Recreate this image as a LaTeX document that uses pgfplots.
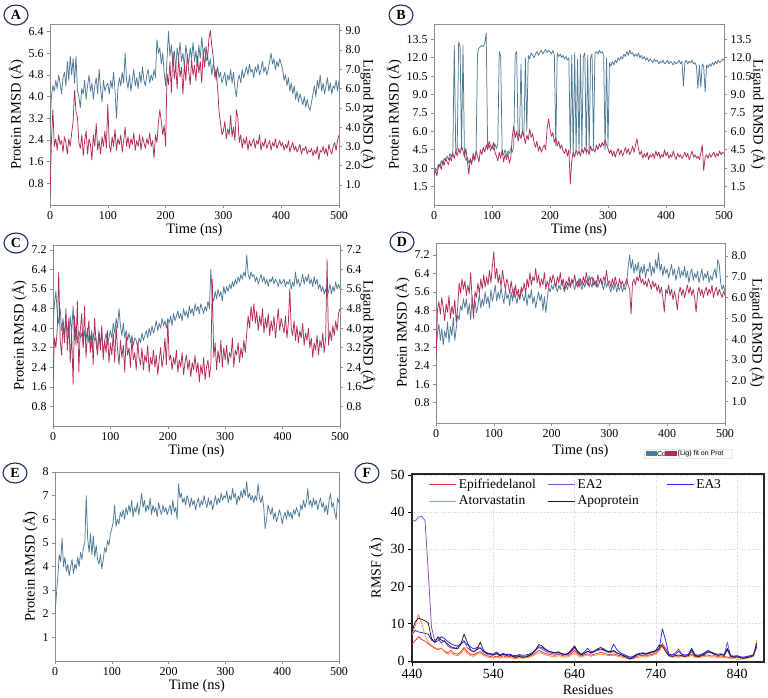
\documentclass[border=0pt]{standalone}
\usepackage{pgfplots}
\pgfplotsset{compat=1.18}
\usepackage{pgfplotstable}
\usepackage{fontspec}
\setmainfont{Liberation Serif}
\newfontfamily\legsans{Liberation Sans}

\definecolor{protblue}{RGB}{78,121,150}
\definecolor{ligred}{RGB}{176,44,88}
\definecolor{framegray}{RGB}{140,140,140}
\definecolor{navy}{RGB}{30,45,90}
\definecolor{epired}{RGB}{225,50,45}
\definecolor{eapurple}{RGB}{140,70,200}
\definecolor{eablue}{RGB}{30,30,255}
\definecolor{atorange}{RGB}{255,140,60}
\definecolor{apoblack}{RGB}{25,25,25}

% ---------- RMSD traces, one value every 2.5 ns (0 ... 500 ns) ----------
\pgfplotstableread[header=false,row sep=\\]{
3.0\\4.0\\4.4\\4.2\\4.6\\4.3\\4.8\\4.5\\4.1\\4.7\\4.9\\4.4\\5.3\\4.6\\5.5\\4.8\\5.4\\4.5\\5.5\\4.2\\
4.0\\3.6\\4.3\\4.1\\4.6\\3.9\\4.4\\4.8\\4.2\\4.5\\3.9\\4.4\\4.7\\4.1\\5.0\\4.3\\3.8\\4.6\\4.2\\4.4\\
4.5\\4.1\\4.6\\4.3\\4.9\\4.2\\3.2\\4.3\\4.7\\4.4\\4.9\\4.5\\5.6\\4.6\\4.3\\4.8\\4.2\\4.6\\5.0\\4.4\\
4.7\\4.3\\4.9\\4.5\\5.1\\4.6\\4.4\\4.8\\5.0\\4.5\\4.8\\4.6\\5.0\\4.7\\6.1\\5.6\\5.8\\5.2\\5.6\\4.9\\
4.4\\5.4\\6.4\\5.5\\5.9\\5.2\\5.7\\5.0\\5.8\\5.4\\6.0\\5.3\\5.6\\5.1\\5.9\\5.5\\5.2\\5.8\\5.4\\6.0\\
5.3\\5.7\\5.1\\5.9\\5.4\\6.2\\5.6\\5.8\\5.3\\5.5\\5.1\\5.4\\4.8\\5.2\\5.0\\4.6\\5.1\\4.7\\4.9\\4.5\\
4.7\\4.9\\4.4\\4.8\\4.6\\5.0\\4.5\\4.9\\4.3\\4.0\\4.6\\4.8\\4.5\\5.0\\4.7\\4.9\\5.1\\4.8\\5.2\\4.9\\
5.0\\4.7\\5.1\\4.9\\5.2\\4.8\\5.0\\5.3\\4.9\\5.1\\4.8\\5.0\\5.3\\5.6\\5.2\\5.4\\5.0\\5.3\\5.1\\5.4\\
5.2\\5.0\\4.6\\4.8\\4.4\\4.7\\4.2\\4.5\\4.1\\4.4\\3.9\\4.2\\3.8\\4.1\\3.9\\3.7\\4.0\\3.6\\3.9\\3.6\\
3.5\\3.8\\4.1\\4.4\\4.0\\4.6\\4.3\\4.8\\4.2\\4.5\\4.1\\4.4\\4.7\\4.2\\4.5\\4.1\\4.4\\4.3\\4.6\\4.2\\
4.6\\
}\Aprot
\pgfplotstableread[header=false,row sep=\\]{
0.3\\3.3\\4.9\\3.0\\3.4\\2.8\\3.6\\3.1\\3.3\\2.7\\3.5\\3.2\\2.6\\3.4\\3.0\\3.7\\4.3\\5.9\\4.8\\4.5\\
3.2\\2.9\\3.6\\2.5\\3.3\\3.8\\2.6\\3.4\\3.1\\2.3\\3.6\\3.0\\4.2\\2.8\\3.3\\2.6\\3.5\\3.0\\3.8\\2.9\\
5.2\\3.1\\2.7\\3.5\\3.0\\3.9\\2.8\\3.4\\3.1\\3.6\\2.7\\3.3\\4.0\\3.0\\3.5\\2.9\\3.4\\3.1\\3.7\\2.8\\
3.3\\3.0\\3.6\\2.8\\3.5\\3.2\\2.9\\3.4\\3.1\\3.7\\3.0\\3.3\\2.4\\3.6\\3.2\\4.2\\4.9\\4.3\\3.6\\4.1\\
3.0\\6.8\\6.2\\7.4\\5.8\\7.9\\6.5\\7.2\\6.0\\7.6\\6.6\\7.1\\5.7\\7.3\\6.4\\7.8\\6.9\\6.2\\7.5\\6.7\\
7.2\\6.4\\7.7\\6.8\\7.4\\6.3\\7.9\\7.1\\8.2\\7.5\\8.6\\9.0\\8.2\\7.6\\6.6\\7.0\\6.0\\4.8\\4.2\\3.6\\
3.8\\4.3\\3.4\\3.9\\3.6\\4.6\\3.5\\4.0\\3.3\\4.9\\4.5\\3.2\\3.6\\2.9\\3.4\\3.1\\3.5\\2.8\\3.3\\3.0\\
3.2\\3.4\\2.9\\3.3\\3.1\\3.6\\2.8\\3.2\\3.0\\3.4\\2.9\\3.1\\3.3\\2.8\\3.2\\3.0\\3.4\\2.9\\3.1\\3.3\\
3.0\\3.2\\2.8\\3.1\\2.9\\3.3\\2.7\\3.0\\3.2\\2.8\\3.0\\2.7\\2.9\\3.1\\2.6\\2.9\\2.8\\3.0\\2.6\\2.8\\
2.7\\2.9\\2.5\\2.8\\2.6\\3.0\\2.3\\2.8\\2.7\\3.0\\2.6\\2.9\\2.5\\3.1\\2.8\\2.6\\3.0\\3.2\\2.8\\3.3\\
3.6\\
}\Alig
\pgfplotstableread[header=false,row sep=\\]{
2.6\\3.0\\2.8\\3.3\\3.1\\3.6\\3.3\\3.8\\3.6\\4.0\\3.7\\4.2\\3.9\\4.4\\13.0\\4.3\\4.6\\13.3\\12.9\\4.5\\
13.0\\4.1\\3.6\\3.9\\3.4\\3.7\\3.5\\3.9\\3.6\\4.0\\12.3\\12.8\\12.9\\13.0\\12.9\\13.2\\14.0\\4.6\\4.9\\4.4\\
4.8\\4.5\\5.0\\4.6\\4.9\\12.5\\12.1\\4.3\\4.1\\4.5\\4.0\\4.4\\4.2\\4.6\\4.3\\4.8\\12.3\\12.5\\5.6\\5.9\\
11.5\\5.8\\5.6\\12.0\\6.0\\12.2\\11.9\\12.4\\12.2\\12.0\\12.3\\12.5\\12.2\\12.4\\12.6\\12.3\\12.5\\12.7\\12.4\\12.6\\
12.5\\12.3\\12.6\\12.2\\4.8\\12.4\\12.1\\12.3\\12.0\\12.2\\11.9\\12.1\\11.8\\12.0\\4.2\\12.2\\4.0\\12.4\\4.5\\11.9\\
4.3\\12.3\\4.6\\12.1\\12.4\\4.1\\12.2\\4.4\\12.0\\12.3\\4.7\\12.4\\12.5\\12.3\\12.6\\12.4\\12.5\\12.2\\4.5\\12.0\\
4.8\\11.6\\11.3\\11.7\\11.4\\11.8\\11.6\\12.0\\11.8\\12.1\\11.9\\12.3\\12.1\\12.5\\12.2\\12.6\\12.3\\12.4\\12.1\\12.3\\
12.1\\12.4\\12.0\\12.2\\11.9\\12.1\\11.8\\12.0\\11.7\\11.9\\11.8\\11.6\\11.9\\11.7\\11.8\\11.5\\11.7\\11.6\\11.8\\11.5\\
11.6\\11.8\\11.5\\11.7\\11.6\\11.4\\11.7\\11.5\\11.6\\11.8\\11.5\\11.7\\9.7\\11.6\\11.8\\11.5\\11.7\\11.6\\11.8\\11.5\\
11.6\\11.3\\9.5\\11.4\\9.6\\11.5\\11.3\\9.2\\11.4\\11.2\\11.5\\11.3\\11.6\\11.4\\11.7\\11.5\\11.8\\11.6\\11.7\\11.9\\
11.8\\
}\Bprot
\pgfplotstableread[header=false,row sep=\\]{
2.5\\2.8\\2.4\\3.1\\3.3\\2.9\\3.6\\3.2\\3.8\\3.5\\3.3\\3.9\\3.6\\4.2\\3.8\\4.4\\4.0\\4.6\\4.2\\4.8\\
4.4\\3.9\\4.6\\3.6\\2.5\\3.8\\3.3\\4.2\\3.7\\4.4\\4.0\\3.5\\4.5\\4.1\\4.7\\4.3\\4.9\\4.5\\5.2\\4.8\\
4.6\\5.1\\4.3\\4.0\\3.6\\4.3\\3.8\\4.5\\3.5\\4.1\\3.7\\4.2\\3.4\\3.9\\5.6\\6.4\\5.5\\6.0\\5.2\\5.8\\
5.4\\6.1\\5.6\\5.0\\5.7\\5.3\\6.2\\5.5\\5.8\\5.1\\4.7\\5.2\\4.4\\4.8\\4.3\\4.6\\4.9\\4.5\\6.2\\7.0\\
6.2\\5.6\\5.9\\5.1\\5.5\\4.8\\5.2\\4.6\\4.9\\4.4\\4.2\\4.6\\4.0\\4.5\\1.7\\3.6\\4.3\\3.9\\4.5\\4.1\\
4.4\\4.0\\4.6\\4.2\\4.7\\4.3\\4.5\\4.1\\4.8\\4.4\\4.6\\4.3\\4.9\\4.5\\5.0\\4.7\\5.1\\4.8\\5.3\\4.9\\
4.6\\4.2\\4.5\\4.0\\4.4\\3.9\\4.3\\4.6\\4.1\\4.5\\4.0\\4.3\\4.7\\4.2\\4.6\\4.1\\4.4\\4.8\\4.3\\4.9\\
5.4\\4.6\\4.1\\4.4\\3.8\\4.2\\3.9\\4.3\\3.7\\4.1\\3.9\\4.2\\3.8\\4.4\\4.0\\4.3\\3.8\\4.1\\3.9\\4.5\\
4.0\\4.3\\3.8\\4.1\\3.9\\4.4\\4.0\\3.7\\4.2\\3.9\\4.1\\3.8\\4.0\\4.3\\3.9\\4.2\\3.7\\4.0\\4.4\\3.9\\
4.1\\3.8\\4.0\\3.7\\4.2\\4.9\\2.8\\3.9\\4.1\\3.8\\4.2\\3.9\\4.1\\4.3\\3.9\\4.2\\4.0\\4.4\\4.1\\4.3\\
4.2\\
}\Blig
\pgfplotstableread[header=false,row sep=\\]{
4.0\\5.0\\5.5\\4.6\\4.2\\4.8\\3.9\\4.4\\3.7\\4.3\\4.0\\3.6\\4.5\\3.8\\4.9\\3.5\\4.1\\3.4\\3.9\\3.6\\
3.8\\3.3\\3.9\\3.5\\4.0\\3.4\\3.7\\3.2\\3.8\\3.5\\3.6\\3.1\\3.9\\3.4\\3.7\\3.0\\3.5\\3.8\\3.3\\3.6\\
3.9\\3.6\\4.2\\3.8\\4.4\\4.0\\4.8\\4.1\\3.7\\4.2\\3.6\\3.9\\3.5\\3.8\\3.4\\3.7\\3.3\\3.6\\3.5\\3.2\\
3.6\\3.4\\3.8\\3.5\\3.7\\3.9\\3.6\\4.0\\3.7\\4.1\\3.8\\4.0\\4.3\\3.9\\4.2\\4.0\\4.4\\4.1\\4.3\\4.0\\
4.4\\4.2\\4.5\\4.1\\4.6\\4.3\\4.5\\4.7\\4.4\\4.6\\4.3\\4.8\\4.5\\4.7\\4.4\\4.9\\4.6\\4.8\\4.5\\5.0\\
4.7\\4.9\\4.6\\5.0\\4.8\\4.6\\4.9\\4.7\\5.1\\4.8\\6.4\\5.3\\5.1\\5.5\\5.2\\5.6\\5.3\\5.5\\5.1\\5.7\\
5.4\\5.7\\5.5\\5.8\\5.6\\5.9\\5.7\\6.0\\5.8\\6.1\\5.9\\6.2\\6.0\\6.3\\6.1\\7.0\\6.2\\6.0\\6.3\\6.1\\
6.2\\5.9\\6.1\\5.8\\6.0\\6.2\\5.9\\6.1\\5.8\\6.0\\5.7\\6.0\\5.9\\6.1\\5.8\\6.0\\5.9\\5.7\\6.0\\5.8\\
5.9\\6.0\\5.7\\5.9\\5.8\\6.0\\5.6\\5.9\\5.7\\6.3\\5.8\\6.0\\5.7\\5.9\\6.2\\5.8\\6.1\\5.9\\6.2\\5.8\\
6.0\\5.7\\6.1\\5.8\\6.0\\5.6\\5.8\\5.5\\5.7\\5.4\\5.6\\5.3\\5.5\\5.8\\5.4\\5.7\\5.5\\5.9\\5.6\\5.8\\
5.6\\
}\Cprot
\pgfplotstableread[header=false,row sep=\\]{
1.8\\3.6\\3.2\\4.0\\6.3\\3.5\\2.9\\4.2\\3.4\\4.8\\3.1\\4.4\\2.6\\3.8\\1.7\\4.5\\3.3\\5.1\\2.2\\3.9\\
4.6\\3.2\\4.9\\2.8\\3.7\\4.3\\3.0\\3.9\\2.5\\4.4\\3.4\\2.9\\3.8\\3.1\\4.1\\2.7\\3.5\\3.0\\3.9\\2.6\\
3.4\\2.9\\3.8\\2.6\\4.1\\3.1\\2.5\\3.5\\2.8\\3.3\\2.2\\3.7\\2.9\\3.2\\2.4\\3.6\\2.7\\3.0\\2.3\\3.4\\
2.8\\2.5\\3.2\\2.3\\2.9\\2.6\\3.3\\2.2\\2.8\\2.5\\3.1\\2.4\\2.9\\2.1\\2.7\\3.2\\2.4\\2.8\\3.6\\2.5\\
4.3\\2.7\\2.9\\2.3\\2.8\\2.5\\3.1\\2.2\\2.7\\2.4\\3.0\\2.1\\2.6\\2.9\\2.3\\2.7\\2.0\\2.6\\2.3\\2.9\\
2.2\\2.6\\1.8\\2.5\\2.1\\2.8\\1.9\\2.4\\2.7\\2.0\\2.5\\6.0\\2.8\\3.4\\2.3\\3.1\\2.6\\3.5\\2.4\\3.2\\
2.7\\3.3\\2.5\\3.0\\2.8\\3.6\\2.4\\3.1\\2.9\\3.4\\2.6\\3.2\\2.8\\3.5\\3.0\\3.8\\4.5\\4.0\\4.9\\4.3\\
5.0\\4.2\\4.7\\3.9\\4.5\\4.1\\4.8\\3.8\\4.4\\4.0\\4.6\\3.7\\4.3\\3.9\\4.5\\3.6\\4.2\\4.8\\3.9\\4.4\\
4.1\\3.8\\4.5\\3.6\\4.2\\5.6\\4.0\\3.7\\4.3\\3.5\\4.1\\3.4\\3.9\\3.6\\4.2\\3.3\\3.8\\3.5\\4.0\\3.2\\
3.6\\2.8\\3.4\\3.1\\3.7\\2.9\\3.5\\3.2\\3.8\\3.0\\3.6\\6.8\\3.3\\3.9\\3.5\\4.1\\3.7\\4.3\\3.9\\4.6\\
4.8\\
}\Clig
\pgfplotstableread[header=false,row sep=\\]{
3.0\\3.8\\4.2\\3.5\\4.0\\3.3\\3.9\\3.6\\4.3\\3.4\\4.1\\3.7\\4.5\\3.5\\4.0\\4.6\\4.4\\5.0\\4.8\\5.3\\
4.9\\5.3\\4.6\\5.1\\4.4\\5.4\\4.8\\5.2\\4.7\\5.0\\5.5\\4.9\\5.3\\5.0\\5.6\\5.1\\5.4\\4.9\\5.7\\5.2\\
5.5\\5.9\\5.2\\5.6\\5.3\\5.8\\5.4\\5.1\\5.7\\5.3\\5.5\\5.0\\5.6\\5.2\\5.8\\5.4\\5.1\\5.5\\5.3\\5.7\\
5.4\\5.2\\5.6\\5.0\\5.5\\5.3\\5.7\\5.1\\5.4\\4.9\\5.3\\5.6\\5.2\\5.5\\4.8\\5.4\\4.7\\5.3\\5.8\\5.6\\
5.9\\5.7\\6.0\\5.8\\5.6\\5.9\\5.7\\6.1\\5.8\\5.6\\5.9\\5.7\\6.0\\5.8\\6.1\\5.9\\5.7\\6.0\\5.8\\6.2\\
5.9\\5.7\\6.0\\5.8\\6.1\\5.9\\6.3\\6.0\\5.8\\6.2\\5.9\\6.1\\5.8\\6.0\\6.2\\5.9\\5.7\\6.1\\5.8\\6.0\\
5.8\\5.6\\5.9\\5.7\\6.0\\5.6\\5.8\\5.7\\5.9\\5.6\\5.8\\5.7\\6.0\\6.7\\7.2\\6.6\\7.0\\6.4\\6.8\\6.5\\
6.9\\6.3\\6.7\\6.4\\6.8\\6.2\\6.6\\6.5\\6.9\\6.3\\6.7\\6.4\\7.0\\6.6\\7.3\\6.5\\6.8\\6.3\\6.7\\6.4\\
6.6\\6.2\\6.5\\6.8\\6.3\\6.6\\6.1\\6.4\\6.7\\6.2\\6.5\\6.3\\6.7\\6.2\\6.5\\6.0\\6.4\\6.6\\6.1\\6.4\\
6.2\\6.5\\6.0\\6.3\\6.6\\6.1\\6.4\\6.2\\6.5\\6.0\\6.3\\6.1\\6.4\\6.6\\6.2\\7.0\\6.8\\6.0\\5.7\\5.9\\
5.6\\
}\Dprot
\pgfplotstableread[header=false,row sep=\\]{
3.0\\5.4\\5.8\\5.2\\6.0\\5.5\\4.9\\5.7\\5.3\\6.1\\5.0\\5.6\\5.2\\5.9\\4.8\\5.5\\6.7\\6.2\\6.9\\6.4\\
6.8\\6.1\\6.6\\6.2\\7.2\\5.9\\5.0\\6.3\\6.0\\6.7\\6.2\\6.9\\6.4\\7.1\\6.5\\7.0\\6.6\\7.3\\6.7\\7.5\\
8.2\\6.9\\7.4\\6.7\\7.1\\6.5\\7.3\\6.8\\6.4\\6.9\\6.6\\6.2\\6.8\\6.3\\6.0\\6.6\\6.1\\6.4\\5.9\\6.5\\
6.3\\6.7\\6.2\\6.9\\6.5\\7.2\\6.6\\7.0\\6.8\\7.4\\6.7\\7.1\\6.5\\6.9\\6.6\\7.2\\6.4\\6.8\\6.5\\7.0\\
6.7\\7.1\\6.8\\6.5\\7.0\\6.7\\7.2\\6.6\\6.9\\6.4\\6.8\\6.6\\7.0\\6.5\\6.9\\6.7\\7.1\\6.6\\6.8\\6.5\\
6.9\\6.6\\7.0\\6.7\\7.2\\6.8\\6.5\\6.9\\7.0\\6.6\\6.8\\6.5\\7.1\\6.7\\6.9\\6.6\\7.0\\6.8\\7.3\\6.7\\
6.8\\6.5\\6.9\\6.6\\7.0\\6.7\\6.5\\6.9\\6.6\\6.8\\6.5\\6.7\\6.9\\6.6\\6.4\\5.2\\6.7\\6.9\\6.6\\7.0\\
6.8\\7.1\\6.7\\6.9\\6.6\\6.8\\6.5\\6.9\\6.7\\6.4\\6.8\\6.5\\6.7\\6.3\\6.6\\6.2\\6.5\\6.0\\5.3\\6.4\\
6.2\\6.6\\6.1\\6.4\\5.9\\6.3\\6.0\\5.4\\6.2\\6.5\\6.1\\6.4\\6.0\\6.3\\6.6\\6.2\\6.5\\6.1\\6.4\\6.0\\
5.3\\6.2\\6.5\\6.1\\6.4\\6.0\\6.3\\6.5\\6.1\\6.4\\6.2\\6.6\\6.0\\6.3\\6.5\\6.1\\6.4\\6.2\\6.0\\6.3\\
6.1\\
}\Dlig
\pgfplotstableread[header=false,row sep=\\]{
2.0\\2.8\\3.6\\4.5\\4.2\\5.2\\4.0\\4.4\\3.8\\4.1\\3.6\\4.0\\4.3\\3.7\\4.1\\3.9\\4.4\\4.0\\4.6\\4.3\\
4.8\\5.0\\7.0\\5.2\\4.6\\5.4\\4.5\\5.3\\4.4\\4.9\\4.3\\4.1\\4.5\\3.9\\4.3\\4.8\\4.6\\5.1\\4.9\\5.4\\
5.6\\5.9\\6.6\\5.7\\6.0\\5.8\\6.3\\6.1\\6.4\\6.0\\6.5\\6.2\\6.6\\6.3\\6.8\\6.1\\6.5\\6.3\\6.7\\6.2\\
6.6\\7.1\\6.5\\6.8\\6.3\\6.6\\6.4\\6.9\\6.2\\6.6\\6.3\\6.5\\6.1\\6.7\\6.4\\6.2\\6.6\\6.3\\6.5\\6.2\\
6.4\\6.6\\6.2\\6.8\\6.3\\6.5\\6.0\\7.5\\6.9\\7.1\\6.7\\6.9\\6.6\\7.0\\6.8\\6.5\\6.9\\6.6\\6.8\\6.4\\
6.7\\6.9\\6.5\\6.8\\6.6\\7.0\\6.7\\6.5\\6.9\\6.6\\6.8\\6.4\\6.7\\7.0\\6.6\\6.9\\6.7\\7.1\\6.8\\7.0\\
6.9\\7.2\\6.7\\7.0\\6.8\\7.3\\6.9\\7.1\\6.6\\7.0\\6.8\\7.2\\6.9\\7.3\\7.0\\7.6\\6.9\\7.1\\6.8\\7.0\\
6.7\\7.0\\6.8\\7.5\\6.9\\6.7\\7.0\\6.5\\5.6\\6.0\\6.6\\6.4\\6.2\\6.5\\6.0\\6.3\\5.9\\6.1\\6.4\\6.2\\
5.8\\6.1\\6.3\\6.0\\6.4\\6.1\\6.3\\6.0\\6.4\\6.2\\6.5\\6.3\\6.1\\6.6\\6.4\\6.8\\6.5\\6.7\\7.3\\6.6\\
6.8\\6.5\\6.9\\6.6\\6.8\\6.4\\6.7\\6.9\\6.5\\6.7\\6.3\\6.6\\6.2\\6.8\\7.1\\6.5\\6.7\\6.3\\6.0\\6.9\\
6.7\\
}\Eprot

% ---------- RMSF per residue, every 4th residue from 440 ----------
\pgfplotstableread[header=false,row sep=\\]{
4.5\\5.5\\6.5\\5.8\\5.3\\4.6\\4.0\\3.4\\3.0\\3.4\\
2.6\\2.2\\2.8\\2.0\\1.8\\2.4\\3.6\\2.5\\1.8\\1.6\\
2.2\\2.5\\1.8\\1.4\\1.2\\1.0\\1.3\\1.0\\1.4\\1.1\\
1.2\\1.0\\0.9\\1.1\\0.9\\1.0\\1.2\\1.6\\2.2\\2.8\\
2.4\\2.0\\1.8\\1.6\\1.5\\1.8\\1.5\\1.3\\1.4\\2.0\\
2.8\\1.8\\1.3\\1.6\\1.9\\1.5\\1.8\\2.0\\2.3\\2.1\\
1.8\\1.7\\1.9\\1.6\\1.4\\1.2\\0.9\\0.6\\0.8\\1.2\\
1.4\\1.5\\1.3\\1.6\\1.8\\2.2\\3.0\\4.6\\3.4\\1.6\\
1.3\\1.4\\1.2\\1.5\\1.3\\1.4\\1.8\\1.2\\1.1\\1.3\\
1.5\\1.6\\1.3\\1.4\\1.2\\1.3\\1.2\\1.0\\0.8\\0.9\\
1.0\\0.8\\0.7\\0.9\\1.0\\1.3\\3.8\\
}\Fepi
\pgfplotstableread[header=false,row sep=\\]{
38.0\\37.6\\38.7\\38.9\\37.8\\24.0\\9.0\\5.5\\6.0\\4.8\\
5.5\\4.0\\3.5\\3.2\\3.8\\4.5\\5.5\\3.5\\2.8\\2.5\\
3.0\\3.6\\2.4\\1.8\\1.6\\1.5\\2.0\\1.4\\1.8\\1.5\\
1.6\\1.3\\1.2\\1.5\\1.2\\1.3\\1.5\\2.0\\2.8\\3.6\\
3.2\\2.6\\2.2\\2.0\\1.8\\2.2\\1.8\\1.6\\1.8\\2.4\\
3.4\\2.2\\1.6\\2.0\\2.6\\2.0\\2.4\\2.8\\3.0\\2.8\\
2.4\\2.2\\2.6\\2.0\\1.8\\1.5\\1.2\\0.8\\1.0\\1.5\\
1.8\\1.9\\1.7\\2.0\\2.2\\2.6\\3.5\\4.0\\3.2\\1.8\\
1.6\\2.2\\3.2\\1.8\\1.6\\1.7\\2.4\\1.5\\1.4\\1.6\\
2.0\\2.6\\2.2\\1.8\\1.5\\1.6\\1.5\\5.0\\1.2\\1.2\\
1.3\\1.0\\0.9\\1.1\\1.3\\1.6\\4.2\\
}\Featwo
\pgfplotstableread[header=false,row sep=\\]{
7.0\\8.2\\7.8\\7.6\\7.4\\7.2\\5.6\\5.0\\5.4\\6.5\\
6.0\\5.2\\4.6\\4.2\\4.0\\4.6\\5.2\\4.4\\3.8\\3.2\\
3.6\\3.4\\2.5\\2.2\\2.0\\1.8\\2.4\\1.6\\2.0\\1.7\\
1.8\\1.5\\1.4\\1.7\\1.5\\1.6\\1.8\\2.2\\3.0\\3.8\\
3.6\\3.0\\2.6\\2.3\\2.1\\2.4\\2.0\\1.8\\2.0\\2.8\\
3.8\\2.6\\1.8\\2.4\\3.4\\2.4\\2.6\\3.0\\3.2\\3.0\\
2.6\\2.5\\4.5\\3.0\\2.2\\1.8\\1.4\\1.0\\1.2\\1.8\\
2.0\\2.2\\2.0\\2.3\\2.5\\2.8\\3.2\\8.6\\5.5\\1.8\\
1.6\\1.8\\2.6\\1.7\\1.5\\1.8\\3.4\\1.7\\1.5\\1.8\\
2.2\\2.8\\2.4\\2.0\\1.8\\1.9\\1.7\\3.4\\1.4\\1.3\\
1.4\\1.1\\1.0\\1.2\\1.4\\1.7\\3.9\\
}\Feathree
\pgfplotstableread[header=false,row sep=\\]{
7.0\\9.5\\12.5\\10.0\\7.0\\5.0\\4.2\\3.6\\3.2\\3.5\\
2.4\\1.8\\2.2\\1.6\\1.4\\2.0\\3.2\\2.0\\1.4\\1.2\\
1.8\\2.2\\1.5\\1.0\\0.9\\0.8\\1.0\\0.7\\1.0\\0.8\\
0.9\\0.7\\0.6\\0.8\\0.7\\0.8\\1.0\\1.3\\1.8\\2.2\\
2.0\\1.6\\1.4\\1.2\\1.1\\1.4\\1.2\\1.0\\1.1\\1.6\\
2.2\\1.4\\1.0\\1.3\\1.6\\1.2\\1.5\\1.6\\1.8\\1.7\\
1.5\\1.4\\1.5\\1.3\\1.1\\0.9\\0.7\\0.5\\0.6\\0.9\\
1.0\\1.2\\1.0\\1.3\\1.5\\1.9\\2.6\\4.0\\2.8\\1.2\\
1.0\\1.1\\1.0\\1.2\\1.0\\1.1\\1.5\\1.0\\0.9\\1.0\\
1.2\\1.3\\1.0\\1.1\\0.9\\1.0\\0.9\\0.8\\0.6\\0.6\\
0.5\\0.4\\0.5\\0.7\\0.9\\1.4\\5.5\\
}\Fator
\pgfplotstableread[header=false,row sep=\\]{
8.0\\10.5\\11.5\\11.2\\10.8\\10.2\\6.0\\5.0\\6.5\\5.6\\
5.2\\4.5\\3.8\\3.5\\3.2\\4.4\\7.2\\5.0\\3.0\\2.4\\
3.2\\5.0\\2.8\\2.0\\1.8\\1.6\\2.0\\1.4\\1.8\\1.5\\
1.6\\1.2\\1.0\\1.2\\1.0\\1.1\\1.4\\2.0\\3.0\\4.4\\
4.0\\3.2\\2.6\\2.4\\2.2\\2.4\\1.9\\1.7\\2.0\\3.0\\
4.0\\2.4\\1.6\\2.0\\2.6\\2.2\\2.6\\3.2\\3.6\\3.2\\
2.6\\2.4\\2.8\\2.2\\1.8\\1.4\\0.9\\0.5\\0.8\\1.6\\
1.8\\2.0\\1.8\\2.2\\2.4\\2.8\\4.2\\4.0\\2.5\\1.4\\
1.2\\1.4\\1.6\\1.3\\1.2\\1.4\\3.0\\1.4\\1.2\\1.4\\
1.8\\2.4\\2.2\\1.8\\1.5\\1.7\\1.5\\3.0\\1.2\\1.0\\
1.1\\0.8\\0.7\\0.9\\1.1\\1.4\\4.8\\
}\Fapo

\pgfplotsset{
  every axis/.append style={
    scale only axis,
    /pgf/number format/assume math mode=true,
    tick align=outside,
    major tick length=3bp,
    ticklabel style={font=\fontsize{12}{12}\selectfont},
    label style={font=\fontsize{14.5}{16}\selectfont},
  },
  rmsdL/.style={
    xmin=0, xmax=500, xtick={0,100,200,300,400,500},
    axis line style={framegray, line width=0.9pt},
    every tick/.style={framegray, line width=0.6pt},
    xtick pos=bottom, ytick pos=left,
    xlabel={Time (ns)}, ylabel={Protein RMSD (Å)},
    xlabel style={yshift=3bp},
    ylabel style={yshift=-2bp},
  },
  rmsdR/.style={
    xmin=0, xmax=500,
    axis x line=none, axis y line*=right,
    axis line style={framegray, line width=0.9pt},
    every tick/.style={framegray, line width=0.6pt},
    ylabel={Ligand RMSD (Å)},
    ylabel style={at={([xshift=#1]axis description cs:1,0.5)}, anchor=center, rotate=180},
  },
  onedec/.style={yticklabel style={/pgf/number format/.cd, fixed, fixed zerofill, precision=1}},
  protline/.style={protblue, line width=0.75pt, line join=round, no markers},
  ligline/.style={ligred, line width=0.75pt, line join=round, no markers},
  rmsfline/.style={line width=0.75pt, line join=round, no markers},
}

\begin{document}
\begin{tikzpicture}
\path[use as bounding box, fill=white] (0,0) rectangle (768bp,698bp);

% ---------------- A ----------------
\begin{axis}[rmsdL, onedec, at={(50bp,493bp)}, anchor=south west, width=289bp, height=181bp,
  ymin=0, ymax=6.68, ytick={0.8,1.6,2.4,3.2,4.0,4.8,5.6,6.4}]
  \addplot[protline] table[x expr=\coordindex*2.5, y index=0] {\Aprot};
\end{axis}
\begin{axis}[rmsdR=29bp, onedec, at={(50bp,493bp)}, anchor=south west, width=289bp, height=181bp,
  ymin=-0.04, ymax=9.35, ytick={1,2,...,9}]
  \addplot[ligline] table[x expr=\coordindex*2.5, y index=0] {\Alig};
\end{axis}

% ---------------- B ----------------
\begin{axis}[rmsdL, onedec, at={(434bp,493bp)}, anchor=south west, width=290bp, height=181bp,
  ymin=0, ymax=14.75, ytick={1.5,3,4.5,6,7.5,9,10.5,12,13.5}]
  \addplot[protline] table[x expr=\coordindex*2.5, y index=0] {\Bprot};
\end{axis}
\begin{axis}[rmsdR=34bp, onedec, at={(434bp,493bp)}, anchor=south west, width=290bp, height=181bp,
  ymin=0, ymax=14.75, ytick={1.5,3,4.5,6,7.5,9,10.5,12,13.5}]
  \addplot[ligline] table[x expr=\coordindex*2.5, y index=0] {\Blig};
\end{axis}

% ---------------- C ----------------
\begin{axis}[rmsdL, onedec, at={(53bp,272bp)}, anchor=south west, width=287bp, height=181bp,
  ymin=0, ymax=7.4, ytick={0.8,1.6,2.4,3.2,4.0,4.8,5.6,6.4,7.2}]
  \addplot[protline] table[x expr=\coordindex*2.5, y index=0] {\Cprot};
\end{axis}
\begin{axis}[rmsdR=28bp, onedec, at={(53bp,272bp)}, anchor=south west, width=287bp, height=181bp,
  ymin=0, ymax=7.4, ytick={0.8,1.6,2.4,3.2,4.0,4.8,5.6,6.4,7.2}]
  \addplot[ligline] table[x expr=\coordindex*2.5, y index=0] {\Clig};
\end{axis}

% ---------------- D ----------------
\begin{axis}[rmsdL, onedec, at={(436bp,275bp)}, anchor=south west, width=289bp, height=180bp,
  ymin=-0.08, ymax=7.72, ytick={0.8,1.6,2.4,3.2,4.0,4.8,5.6,6.4,7.2},
  xlabel style={yshift=-3bp}]
  \addplot[protline] table[x expr=\coordindex*2.5, y index=0] {\Dprot};
\end{axis}
\begin{axis}[rmsdR=32bp, onedec, at={(436bp,275bp)}, anchor=south west, width=289bp, height=180bp,
  ymin=-0.02, ymax=8.62, ytick={1,2,...,8}]
  \addplot[ligline] table[x expr=\coordindex*2.5, y index=0] {\Dlig};
\end{axis}

% ---------------- E ----------------
\begin{axis}[rmsdL, at={(55bp,37bp)}, anchor=south west, width=284bp, height=189bp,
  ymin=0, ymax=8, ytick={1,2,...,8}]
  \addplot[protline] table[x expr=\coordindex*2.5, y index=0] {\Eprot};
\end{axis}

% ---------------- F ----------------
\begin{axis}[at={(412bp,36bp)}, anchor=south west, width=352bp, height=188bp,
  xmin=440, xmax=873, ymin=-0.3, ymax=50.3,
  xtick={440,540,640,740,840}, ytick={0,10,20,30,40,50},
  axis line style={black!85, line width=1.1pt},
  every tick/.style={black, line width=0.6pt},
  major tick length=4bp,
  xtick pos=bottom, ytick pos=left,
  grid=major, grid style={dotted, gray!35, line width=0.5pt},
  ticklabel style={font=\fontsize{14}{14}\selectfont},
  label style={font=\fontsize{14}{15}\selectfont},
  xlabel={Residues}, ylabel={RMSF (Å)},
  xlabel style={yshift=1bp},
  legend columns=3,
  legend cell align=left,
  legend image code/.code={\draw[#1] (0bp,0bp) -- (27bp,0bp);},
  legend style={draw=none, fill=none, at={(axis description cs:0.048,0.985)}, anchor=north west,
    font=\fontsize{13.5}{15}\selectfont, inner sep=0pt, row sep=2bp,
    /tikz/every even column/.append style={column sep=3bp}},
]
  \addplot[rmsfline, epired] table[x expr=440+\coordindex*4, y index=0] {\Fepi};
  \addlegendentry{\makebox[84bp][l]{Epifriedelanol}}
  \addplot[rmsfline, eapurple] table[x expr=440+\coordindex*4, y index=0] {\Featwo};
  \addlegendentry{\makebox[84bp][l]{EA2}}
  \addplot[rmsfline, eablue] table[x expr=440+\coordindex*4, y index=0] {\Feathree};
  \addlegendentry{\makebox[84bp][l]{EA3}}
  \addplot[rmsfline, atorange] table[x expr=440+\coordindex*4, y index=0] {\Fator};
  \addlegendentry{\makebox[84bp][l]{Atorvastatin}}
  \addplot[rmsfline, apoblack] table[x expr=440+\coordindex*4, y index=0] {\Fapo};
  \addlegendentry{\makebox[84bp][l]{Apoprotein}}
\end{axis}

% small series key under panel D
\draw[gray!20, fill=gray!4] (644bp,239.5bp) rectangle (732bp,248.5bp);
\fill[protblue] (646bp,241.5bp) rectangle (657bp,246.5bp);
\node[anchor=west, inner sep=0pt, font=\legsans\fontsize{7}{7}\selectfont] at (657bp,244bp) {Cα};
\fill[ligred] (665bp,241.5bp) rectangle (677bp,246.5bp);
\node[anchor=west, inner sep=0pt, font=\legsans\fontsize{7}{7}\selectfont] at (677.5bp,244bp) {(Lig) fit on Prot};

% panel letters
\foreach \lab/\px/\py in {A/16/683, B/401/683, C/16/455, D/402/456, E/15/225, F/367/225} {
  \draw[navy, line width=1.1pt] (\px bp,\py bp) ellipse [x radius=12bp, y radius=10bp];
  \node[font=\bfseries\fontsize{14}{14}\selectfont] at (\px bp,\py bp) {\lab};
}
\end{tikzpicture}
\end{document}
